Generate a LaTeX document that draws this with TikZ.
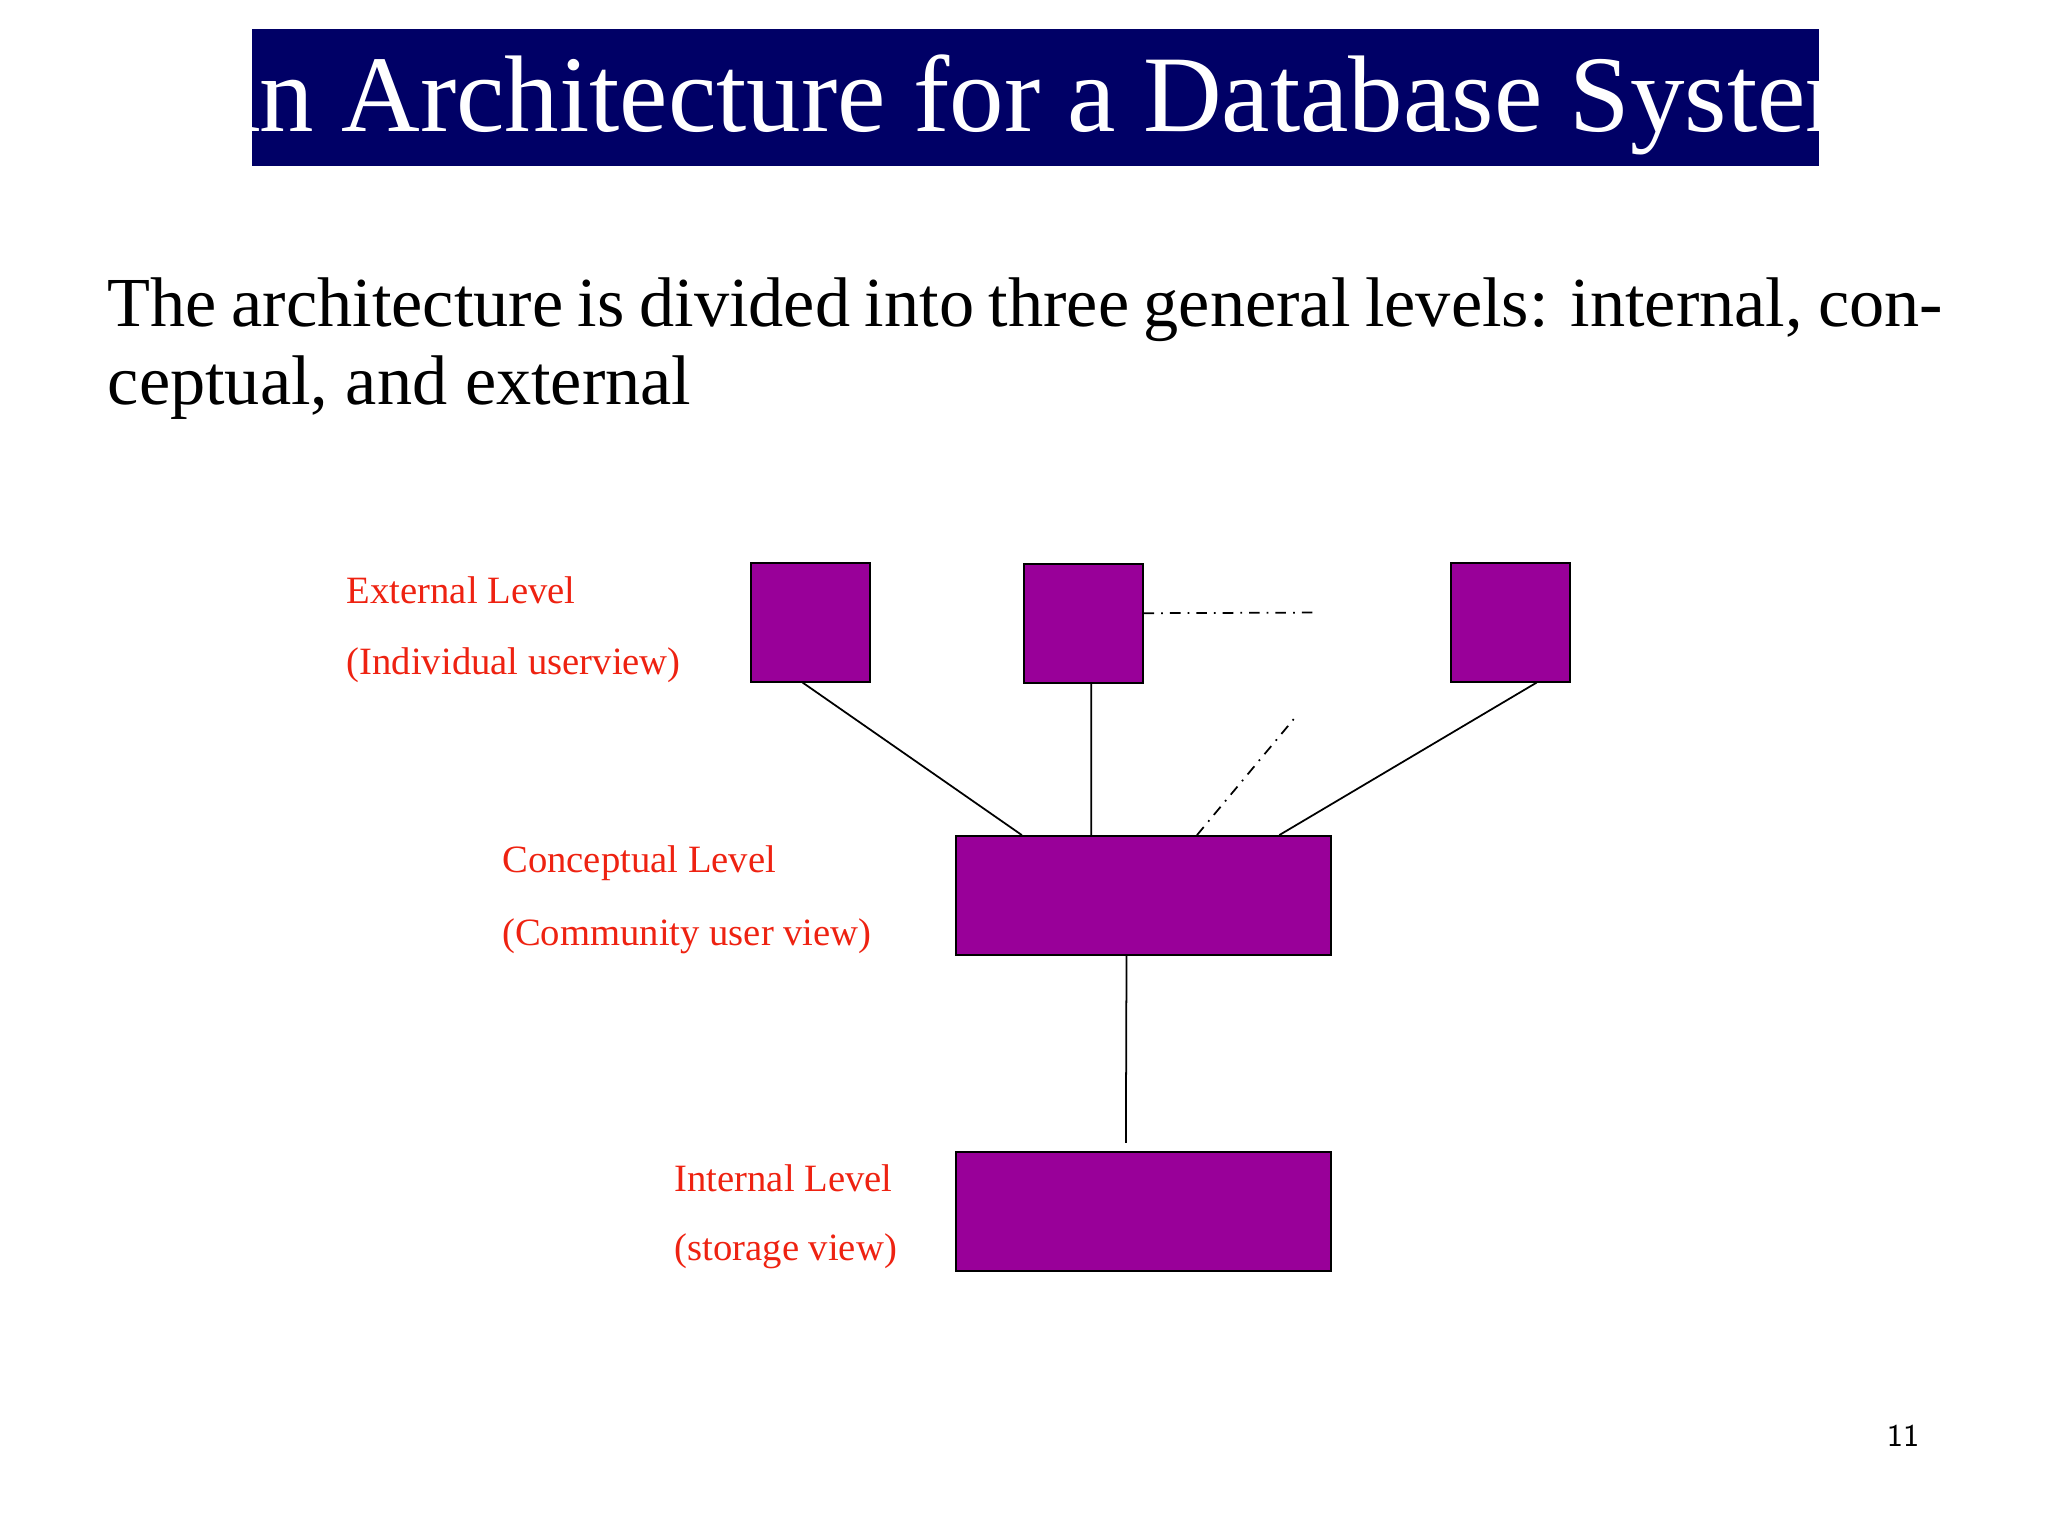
\documentclass[tikz,border=0pt]{standalone}
\usepackage{fontspec}
\setmainfont{Liberation Serif}
\usetikzlibrary{calc}
\definecolor{navy}{HTML}{000066}
\definecolor{plum}{HTML}{990099}
\definecolor{lblred}{HTML}{EE2211}
\tikzset{
  userbox/.style={draw=black, fill=plum, minimum width=1.19cm, minimum height=1.19cm, inner sep=0pt},
  levelbox/.style={draw=black, fill=plum, minimum width=3.75cm, minimum height=1.19cm, inner sep=0pt},
  lbl/.style={text=lblred, font=\fontsize{11}{13}\selectfont, anchor=west, inner sep=0pt},
  link/.style={draw=black, line width=0.5pt}
}
\begin{document}
\begin{tikzpicture}[x=0.01306cm, y=-0.01306cm]
  \useasboundingbox (0,0) rectangle (1568,1176);
  % title bar
  \fill[navy] (193,22) rectangle (1393,127);
  \node[text=white, font=\fontsize{31}{36}\selectfont] (title) at (793,80) {An Architecture for a Database System};
  \node[anchor=north west, text width=18.35cm, align=justify, inner sep=0pt,
        font=\fontsize{20}{22.3}\selectfont] (intro) at (82,212)
    {The architecture is divided into three general levels: internal, conceptual, and external};

  % boxes
  \node[userbox] (ext1) at (620.5,476.5) {};
  \node[userbox] (ext2) at (829.5,477.5) {};
  \node[userbox] (ext3) at (1156.5,476.5) {};
  \node[levelbox] (concept) at (875.5,685.5) {};
  \node[levelbox] (intern) at (875.5,927.5) {};

  % connectors
  \coordinate (gap1) at (1006,469);
  \coordinate (gap2) at (991,550);
  \coordinate (stub) at (862,875);
  \draw[link] ($(ext1.south)+(-6,0)$) -- ($(concept.north west)+(51,0)$);
  \draw[link] ($(ext2.south)+(6,0)$) -- ($(concept.north west)+(104,0)$);
  \draw[link] ($(ext3.south)+(20,0)$) -- ($(concept.north west)+(248,0)$);
  \draw[link, dash dot] ($(concept.north west)+(185,0)$) -- (gap2);
  \draw[link, dash dot] ($(ext2.east)+(0,-8)$) -- (gap1);
  \draw[link] ($(concept.south)+(-13,0)$) -- (stub);

  % labels
  \node[lbl] (extlbl) at (265,452) {External Level};
  \node[lbl, anchor=north west] (extsub) at (265,495) {(Individual user\\[-1pt]view)};
  \node[lbl, align=left, anchor=north west, text width=3cm] at (265,494) {};
  \node[lbl] (conlbl) at (384,661) {Conceptual Level};
  \node[lbl] (consub) at (384,717) {(Community user view)};
  \node[lbl] (intlbl) at (516,902) {Internal Level};
  \node[lbl] (intsub) at (516,958) {(storage view)};

  \node[font=\fontsize{9}{11}\sffamily] (pageno) at (1457,1099) {11};
\end{tikzpicture}
\end{document}
